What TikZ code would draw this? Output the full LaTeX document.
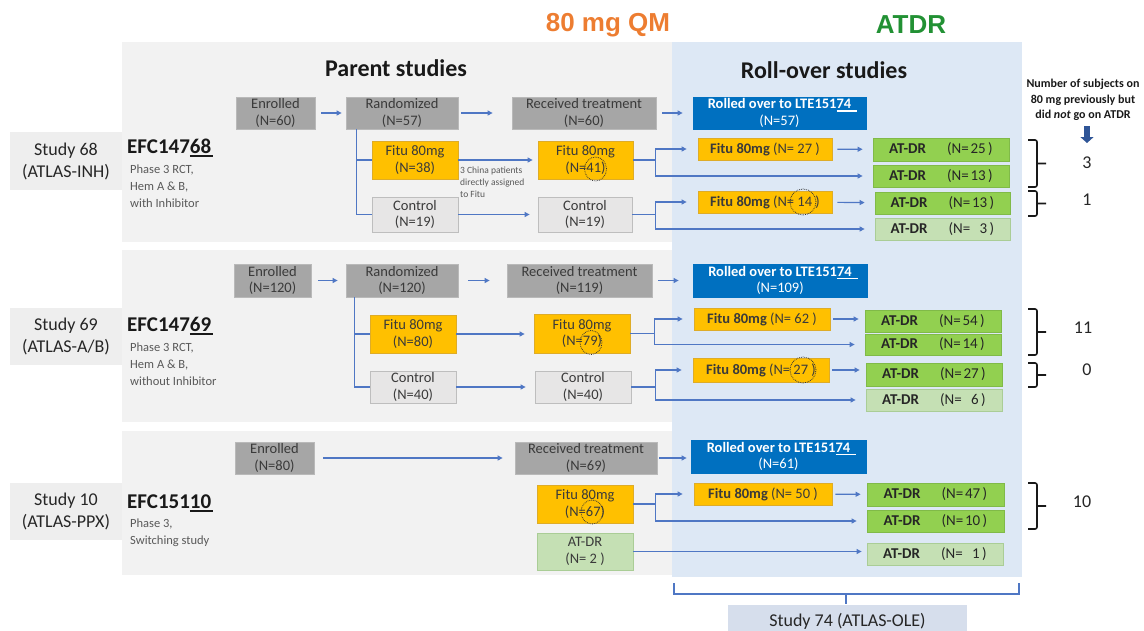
\documentclass[tikz,border=0pt]{standalone}
\usepackage{fontspec}
\setmainfont{Carlito}
\newfontfamily\arialfont{Liberation Sans}
\usetikzlibrary{arrows.meta,calc}

\definecolor{bandgray}{RGB}{242,242,242}
\definecolor{panelblue}{RGB}{221,232,245}
\definecolor{darkbox}{RGB}{166,166,166}
\definecolor{darkline}{RGB}{185,185,185}
\definecolor{fituorange}{RGB}{255,192,0}
\definecolor{fituline}{RGB}{222,172,40}
\definecolor{ctrlgray}{RGB}{231,230,230}
\definecolor{ctrlline}{RGB}{190,190,190}
\definecolor{rollblue}{RGB}{0,112,192}
\definecolor{drgreen}{RGB}{146,208,80}
\definecolor{drline}{RGB}{128,186,72}
\definecolor{drpale}{RGB}{197,224,180}
\definecolor{paleline}{RGB}{170,205,150}
\definecolor{flowblue}{RGB}{79,119,196}
\definecolor{qmorange}{RGB}{237,125,49}
\definecolor{atdrgreen}{RGB}{34,145,52}
\definecolor{labelgray}{RGB}{238,238,238}
\definecolor{oleblue}{RGB}{214,222,236}
\definecolor{txtgray}{RGB}{58,58,58}
\definecolor{descgray}{RGB}{89,89,89}
\definecolor{downblue}{RGB}{47,85,151}

\newcommand\bxfont{\fontsize{14.5}{16.5}\selectfont}
\newcommand\stfont{\fontsize{18}{22}\selectfont}
\newcommand\thul[1]{\setbox0\hbox{#1}\rlap{\rule[-3.5pt]{\dimexpr\wd0+2pt\relax}{2pt}}\box0}
\newcommand\wul[1]{\setbox0\hbox{#1}\rlap{\color{white}\rule[-3pt]{\dimexpr\wd0+6pt\relax}{1.6pt}}\box0}
\newcommand\drtext[1]{{\fontsize{15}{17}\selectfont\textbf{AT-DR}\hspace{21pt}(N=\makebox[17pt][r]{#1}\hspace{2.5pt})}}
\newcommand\rfittext[1]{\textbf{Fitu 80mg} {\color{txtgray}(N= #1 )}}

\tikzset{
  sz/.style 2 args={minimum width=#1pt, minimum height=#2pt},
  pbox/.style={inner sep=0pt, align=center, font=\bxfont, text=txtgray, line width=0.8pt},
  enrbox/.style={pbox, fill=darkbox, draw=darkline},
  fitbox/.style={pbox, fill=fituorange, draw=fituline},
  ctlbox/.style={pbox, fill=ctrlgray, draw=ctrlline},
  rollbox/.style={pbox, fill=rollblue, draw=rollblue, text=white},
  drbox/.style={pbox, fill=drgreen, draw=drline, text=black!85},
  palebox/.style={pbox, fill=drpale, draw=paleline, text=black!85},
  flow/.style={draw=flowblue, line width=1.1pt, -{Triangle[length=5pt,width=5pt]}},
  link/.style={draw=flowblue, line width=1.1pt},
  ring/.style={draw=black!80, densely dotted, line width=0.8pt},
  brk/.style={draw=black!90, line width=1.6pt, rounded corners=2pt},
  stlabel/.style={fill=labelgray, inner sep=0pt, align=center, font=\stfont, text=black!85},
  efc/.style={inner sep=0pt, font=\bfseries\fontsize{21}{24}\selectfont, text=black!90},
  desc/.style={inner sep=0pt, align=left, font=\fontsize{12.5}{17}\selectfont, text=descgray},
  cnt/.style={font=\stfont, text=black!85},
}

\begin{document}
\begin{tikzpicture}[x=1pt,y=-1pt]
\useasboundingbox (0,0) rectangle (1144,630);

% backgrounds
\fill[bandgray] (122,42) rectangle (672,242);
\fill[bandgray] (122,250) rectangle (672,422);
\fill[bandgray] (122,431) rectangle (672,575);
\fill[panelblue] (672,42) rectangle (1022,577);

% headings
\node[font=\arialfont\bfseries\fontsize{26}{30}\selectfont, text=qmorange] (qm) at (608,25) {80 mg QM};
\node[font=\arialfont\bfseries\fontsize{26}{30}\selectfont, text=atdrgreen] (atdr) at (911,25) {ATDR};
\node[font=\bfseries\fontsize{24}{28}\selectfont, text=black!90] (parent) at (396,68) {Parent studies};
\node[font=\bfseries\fontsize{24}{28}\selectfont, text=black!90] (rollover) at (824,70) {Roll-over studies};
\node[font=\bfseries\fontsize{12}{15.5}\selectfont, align=center, text=black!90] (nsub) at (1083,100)
  {Number of subjects on\\80 mg previously but\\did \textit{not} go on ATDR};
\draw[line width=6pt, draw=downblue, -{Triangle[length=6pt,width=13pt]}] (1087,126) -- (1087,143);

% study 68
\node[stlabel, sz={112}{58}] (stA) at (66,161) {Study 68\\(ATLAS-INH)};
\node[efc, anchor=west] (efcA) at (127,148) {EFC147\thul{68}};
\node[desc, anchor=north west] (dsA) at (130,165) {Phase 3 RCT,\\Hem A \& B,\\with Inhibitor};

\node[enrbox, sz={79}{32}] (enrA) at (275.5,113) {Enrolled\\(N=60)};
\node[enrbox, sz={112}{32}] (ranA) at (402,113) {Randomized\\(N=57)};
\node[enrbox, sz={144}{32}] (recA) at (584,113) {Received treatment\\(N=60)};
\node[rollbox, sz={173}{32}] (rolA) at (779.5,113) {\textbf{Rolled over to LTE151\wul{74}}\\(N=57)};
\node[fitbox, sz={86}{38}] (fitA) at (415,160) {Fitu 80mg\\(N=38)};
\node[ctlbox, sz={86}{35}] (conA) at (415,214.5) {Control\\(N=19)};
\node[fitbox, sz={95}{38}] (fitpA) at (585.5,160) {Fitu 80mg\\(N=41)};
\node[ctlbox, sz={94}{35}] (conpA) at (585,214.5) {Control\\(N=19)};
\node[fitbox, sz={134}{22}] (rfitA) at (765,149) {\rfittext{27}};
\node[fitbox, sz={134}{22}] (rfitbA) at (765,202) {\rfittext{14}};
\node[drbox, sz={136}{23}] (drA1) at (941,149.5) {\drtext{25}};
\node[drbox, sz={136}{22}] (drA2) at (941,176) {\drtext{13}};
\node[drbox, sz={135}{22}] (drA3) at (942.5,203) {\drtext{13}};
\node[palebox, sz={135}{22}] (drA4) at (942.5,229) {\drtext{3}};
\node[inner sep=0pt, align=left, font=\fontsize{9.5}{12}\selectfont, text=descgray, anchor=west] (china) at (460,182)
  {3 China patients\\directly assigned\\to Fitu};

\draw[flow, shorten <=6pt, shorten >=4pt] (enrA) -- (ranA);
\draw[flow, shorten <=3pt, shorten >=19pt] (ranA) -- (recA);
\draw[flow, shorten <=6pt, shorten >=10pt] (recA) -- (rolA);
\draw[link] ([xshift=11pt]ranA.south west) coordinate (brA) |- (conA);
\draw[link] (brA |- fitA) -- (fitA);
\draw[flow, shorten >=5pt] (fitA) -- (fitpA);
\draw[flow, shorten >=8pt] (conA) -- (conpA);
\draw[link] (fitpA.east) -- ++(22,0) coordinate (spA);
\draw[flow, shorten >=11pt] (spA) |- (rfitA);
\draw[flow, shorten >=10pt] (spA) |- (drA2);
\draw[flow, shorten <=5pt, shorten >=10pt] (rfitA) -- (drA1);
\draw[link] (conpA.east) -- ++(23,0) coordinate (spB);
\draw[flow, shorten >=11pt] (spB) |- (rfitbA);
\draw[flow, shorten >=10pt] (spB) |- (drA4);
\draw[flow, shorten <=5pt, shorten >=10pt] (rfitbA) -- (drA3);

\draw[ring] ([shift={(10,9)}]fitpA.center) ellipse [x radius=11pt, y radius=12pt];
\draw[ring] ([shift={(38,0)}]rfitbA.center) ellipse [x radius=13pt, y radius=13pt];

\draw[brk] (1028,140) -- (1037,140) -- (1037,187) -- (1028,187) (1037,163.5) -- (1046,163.5);
\draw[brk] (1028,191) -- (1037,191) -- (1037,216) -- (1028,216) (1037,203.5) -- (1046,203.5);
\node[cnt] (nA1) at (1087,163) {3};
\node[cnt] (nA2) at (1087,200) {1};

% study 69
\node[stlabel, sz={112}{57}] (stB) at (66,336.5) {Study 69\\(ATLAS-A/B)};
\node[efc, anchor=west] (efcB) at (127,326) {EFC147\thul{69}};
\node[desc, anchor=north west] (dsB) at (130,343) {Phase 3 RCT,\\Hem A \& B,\\without Inhibitor};

\node[enrbox, sz={77}{33}] (enrB) at (272.5,280.5) {Enrolled\\(N=120)};
\node[enrbox, sz={112}{33}] (ranB) at (402,280.5) {Randomized\\(N=120)};
\node[enrbox, sz={145}{33}] (recB) at (579.5,280.5) {Received treatment\\(N=119)};
\node[rollbox, sz={174}{33}] (rolB) at (780,280.5) {\textbf{Rolled over to LTE151\wul{74}}\\(N=109)};
\node[fitbox, sz={86}{38}] (fitB) at (413,334) {Fitu 80mg\\(N=80)};
\node[ctlbox, sz={86}{32}] (conB) at (413,387) {Control\\(N=40)};
\node[fitbox, sz={96}{39}] (fitpB) at (582,333.5) {Fitu 80mg\\(N=79)};
\node[ctlbox, sz={96}{32}] (conpB) at (583,387) {Control\\(N=40)};
\node[fitbox, sz={136}{22}] (rfitB) at (762,319) {\rfittext{62}};
\node[fitbox, sz={136}{24}] (rfitbB) at (761,370) {\rfittext{27}};
\node[drbox, sz={136}{22}] (drB1) at (933,321) {\drtext{54}};
\node[drbox, sz={136}{21}] (drB2) at (933,344.5) {\drtext{14}};
\node[drbox, sz={136}{23}] (drB3) at (934,374.5) {\drtext{27}};
\node[palebox, sz={136}{22}] (drB4) at (934,400) {\drtext{6}};

\draw[flow, shorten <=7pt, shorten >=8pt] (enrB) -- (ranB);
\draw[flow, shorten <=10pt, shorten >=17pt] (ranB) -- (recB);
\draw[flow, shorten <=6pt, shorten >=14pt] (recB) -- (rolB);
\draw[link] ([xshift=9pt]ranB.south west) coordinate (brB) |- (conB);
\draw[link] (brB |- fitB) -- (fitB);
\draw[flow, shorten >=9pt] (fitB) -- (fitB -| fitpB.west);
\draw[flow, shorten >=9pt] (conB) -- (conpB);
\draw[link] (fitpB.east) -- ++(24,0) coordinate (spC);
\draw[flow, shorten >=11pt] (spC) |- (rfitB);
\draw[flow, shorten >=10pt] (spC) |- (drB2);
\draw[flow, shorten <=3pt, shorten >=6pt] (rfitB.east) -- (rfitB.east -| drB1.west);
\draw[link] (conpB.east) -- ++(24,0) coordinate (spD);
\draw[flow, shorten >=11pt] (spD) |- (rfitbB);
\draw[flow, shorten >=10pt] (spD) |- (drB4);
\draw[flow, shorten <=3pt, shorten >=6pt] (rfitbB.east) -- (rfitbB.east -| drB3.west);

\draw[ring] ([shift={(9,9)}]fitpB.center) ellipse [x radius=11pt, y radius=12pt];
\draw[ring] ([shift={(42,0)}]rfitbB.center) ellipse [x radius=13pt, y radius=13pt];

\draw[brk] (1028,309) -- (1037,309) -- (1037,355) -- (1028,355) (1037,332) -- (1046,332);
\draw[brk] (1028,363) -- (1037,363) -- (1037,387) -- (1028,387) (1037,375) -- (1046,375);
\node[cnt] (nB1) at (1083,328) {11};
\node[cnt] (nB2) at (1087,370) {0};

% study 10
\node[stlabel, sz={112}{57}] (stC) at (66,511) {Study 10\\(ATLAS-PPX)};
\node[efc, anchor=west] (efcC) at (127,503) {EFC151\thul{10}};
\node[desc, anchor=north west] (dsC) at (130,519) {Phase 3,\\Switching study};

\node[enrbox, sz={79}{32}] (enrC) at (274.5,458) {Enrolled\\(N=80)};
\node[enrbox, sz={142}{32}] (recC) at (586,458) {Received treatment\\(N=69)};
\node[rollbox, sz={175}{33}] (rolC) at (778.5,456.5) {\textbf{Rolled over to LTE151\wul{74}}\\(N=61)};
\node[fitbox, sz={96}{38}] (fitpC) at (585,504) {Fitu 80mg\\(N=67)};
\node[palebox, sz={96}{37}, text=txtgray] (drpC) at (585,551.5) {AT-DR\\(N= 2 )};
\node[fitbox, sz={138}{22}] (rfitC) at (763,494) {\rfittext{50}};
\node[drbox, sz={137}{23}] (drC1) at (935.5,494.5) {\drtext{47}};
\node[drbox, sz={137}{22}] (drC2) at (935.5,521) {\drtext{10}};
\node[palebox, sz={136}{22}] (drC3) at (935,554) {\drtext{1}};

\draw[flow, shorten <=9pt, shorten >=12pt] (enrC) -- (recC);
\draw[flow, shorten <=2pt, shorten >=4pt] (recC) -- (recC -| rolC.west);
\draw[link] (fitpC.east) -- ++(22,0) coordinate (spE);
\draw[flow, shorten >=11pt] (spE) |- (rfitC);
\draw[flow, shorten >=10pt] (spE) |- (drC2);
\draw[flow, shorten <=3pt, shorten >=6pt] (rfitC) -- (drC1);
\draw[flow, shorten >=5pt] (drpC) -- (drpC -| drC3.west);

\draw[ring] ([shift={(7,8)}]fitpC.center) ellipse [x radius=11pt, y radius=12pt];

\draw[brk] (1028,483) -- (1037,483) -- (1037,529) -- (1028,529) (1037,506) -- (1046,506);
\node[cnt] (nC1) at (1082,502) {10};

% study 74
\draw[flowblue, line width=1.3pt] (674,583) -- (674,594) -- (1019,594) -- (1019,583) (846,594) -- (846,604);
\node[fill=oleblue, sz={239}{32}, inner sep=0pt, font=\stfont, text=black!85] (ole) at (847.5,621) {Study 74 (ATLAS-OLE)};
\end{tikzpicture}
\end{document}
